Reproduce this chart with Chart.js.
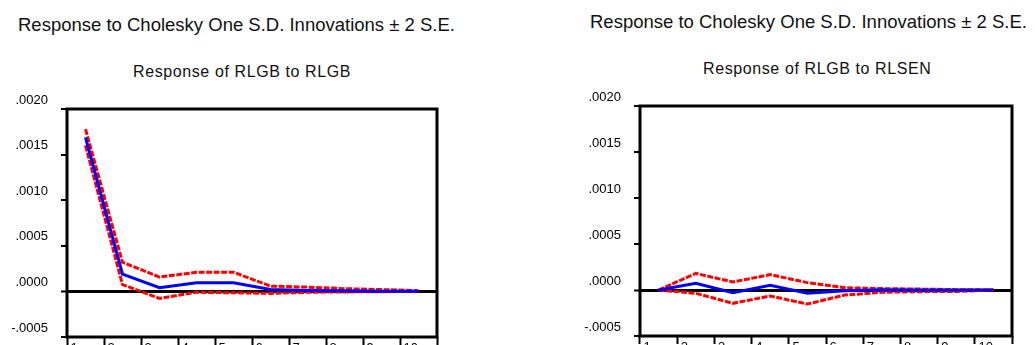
<!DOCTYPE html>
<html>
<head>
<meta charset="utf-8">
<script src="https://cdn.jsdelivr.net/npm/chart.js@4"></script>
<style>
  html,body{margin:0;padding:0;background:#fff;}
  body{width:1035px;height:345px;position:relative;overflow:hidden;font-family:"Liberation Sans",Arial,sans-serif;color:#111;}
  .main-title{position:absolute;font-size:18.5px;line-height:20px;white-space:nowrap;}
  .sub-title{position:absolute;font-size:16px;line-height:18px;letter-spacing:0.6px;white-space:nowrap;}
  canvas{position:absolute;top:0;}
</style>
</head>
<body>
<div class="main-title" style="left:18px;top:15px;">Response to Cholesky One S.D. Innovations ± 2 S.E.</div>
<div class="main-title" style="left:590px;top:12px;">Response to Cholesky One S.D. Innovations ± 2 S.E.</div>
<div class="sub-title" style="left:133px;top:63px;">Response of RLGB to RLGB</div>
<div class="sub-title" style="left:703px;top:60px;">Response of RLGB to RLSEN</div>
<canvas id="chartLeft" style="left:0;width:520px;height:345px;" width="520" height="345"></canvas>
<canvas id="chartRight" style="left:520px;width:515px;height:345px;" width="515" height="345"></canvas>
<script>
// periods 1..10
const periods = ['1','2','3','4','5','6','7','8','9','10'];

// response of RLGB to RLGB (+/- 2 S.E.)
const rlgbResp  = [0.00169, 0.00019, 0.00004, 0.000095, 0.000095, 0.00002, 0.00001, 0.000006, 0.000003, 0.000001];
const rlgbUpper = [0.00178, 0.00032, 0.000157, 0.00021, 0.00021, 0.000058, 0.000047, 0.00003, 0.00002, 0.000008];
const rlgbLower = [0.0016, 0.000075, -0.000077, -0.00001, -0.000015, -0.000022, -0.00001, -0.000006, -0.000003, -0.000001];

// response of RLGB to RLSEN (+/- 2 S.E.)
const senResp  = [0, 0.000073, -0.00003, 0.00005, -0.000036, -0.000007, 0.000002, 0.000001, 0, 0];
const senUpper = [0, 0.00018, 0.000087, 0.000167, 0.00008, 0.000025, 0.000015, 0.00001, 0.000004, 0];
const senLower = [0, -0.000036, -0.000145, -0.000065, -0.000153, -0.000055, -0.000025, -0.000018, -0.000015, 0];

const yMin = -0.0005, yMax = 0.002, yStep = 0.0005;

function fmtTick(v){
  const s = Math.abs(v).toFixed(4).replace(/^0/, '');
  return (v < -1e-12 ? '-' : '') + s;
}

// box round the plot area
const boxPlugin = {
  id:'box',
  afterDatasetsDraw(chart){
    const a = chart.chartArea, ctx = chart.ctx;
    ctx.save(); ctx.strokeStyle = '#000'; ctx.lineWidth = 3;
    ctx.strokeRect(a.left, a.top, a.right - a.left, a.bottom - a.top);
    ctx.restore();
  }
};

// fixed axis sizes, no label overhang padding
function fixSize(prop, val){
  return s => { s[prop] = val; s.paddingTop = 0; s.paddingBottom = 0; s.paddingLeft = 0; s.paddingRight = 0; };
}

function makeChart(id, resp, upper, lower, yW, padTop, padRight, xH){
  const red = { borderColor:'#ff0000', borderWidth:3, borderDash:[6,1.5], pointRadius:0, tension:0, fill:false, order:1 };
  return new Chart(document.getElementById(id), {
    type:'line',
    data:{ labels:periods, datasets:[
      { data:resp, borderColor:'#0000ff', borderWidth:3, pointRadius:0, tension:0, fill:false, order:0 },
      Object.assign({ data:upper }, red),
      Object.assign({ data:lower }, red)
    ]},
    options:{
      responsive:false, animation:false, devicePixelRatio:1,
      layout:{ padding:{ top:padTop, right:padRight, left:0, bottom:0 } },
      plugins:{ legend:{display:false}, tooltip:{enabled:false}, title:{display:false} },
      scales:{
        x:{
          offset:true,
          grid:{ offset:true, drawOnChartArea:false, drawTicks:true, tickLength:8, tickColor:'#000', tickWidth:2 },
          border:{ display:false },
          ticks:{ align:'start', labelOffset:-15, padding:-4.5, color:'#000', maxRotation:0, autoSkip:false, font:{ family:'Liberation Sans', size:13 } },
          afterFit:fixSize('height', xH)
        },
        y:{
          min:yMin, max:yMax,
          grid:{
            drawOnChartArea:true, drawTicks:true, tickLength:6, tickColor:'#000', tickWidth:2,
            color:c => (c.tick && Math.abs(c.tick.value) < 1e-12) ? '#000' : 'rgba(0,0,0,0)',
            lineWidth:c => (c.tick && Math.abs(c.tick.value) < 1e-12) ? 3 : 0
          },
          border:{ display:false },
          ticks:{ stepSize:yStep, callback:fmtTick, labelOffset:-9, padding:13, color:'#000', font:{ family:'Liberation Sans', size:13 } },
          afterFit:fixSize('width', yW)
        }
      }
    },
    plugins:[boxPlugin]
  });
}

makeChart('chartLeft', rlgbResp, rlgbUpper, rlgbLower, 67, 109, 83, 8);
makeChart('chartRight', senResp, senUpper, senLower, 120, 106, 23, 9);
</script>
</body>
</html>
